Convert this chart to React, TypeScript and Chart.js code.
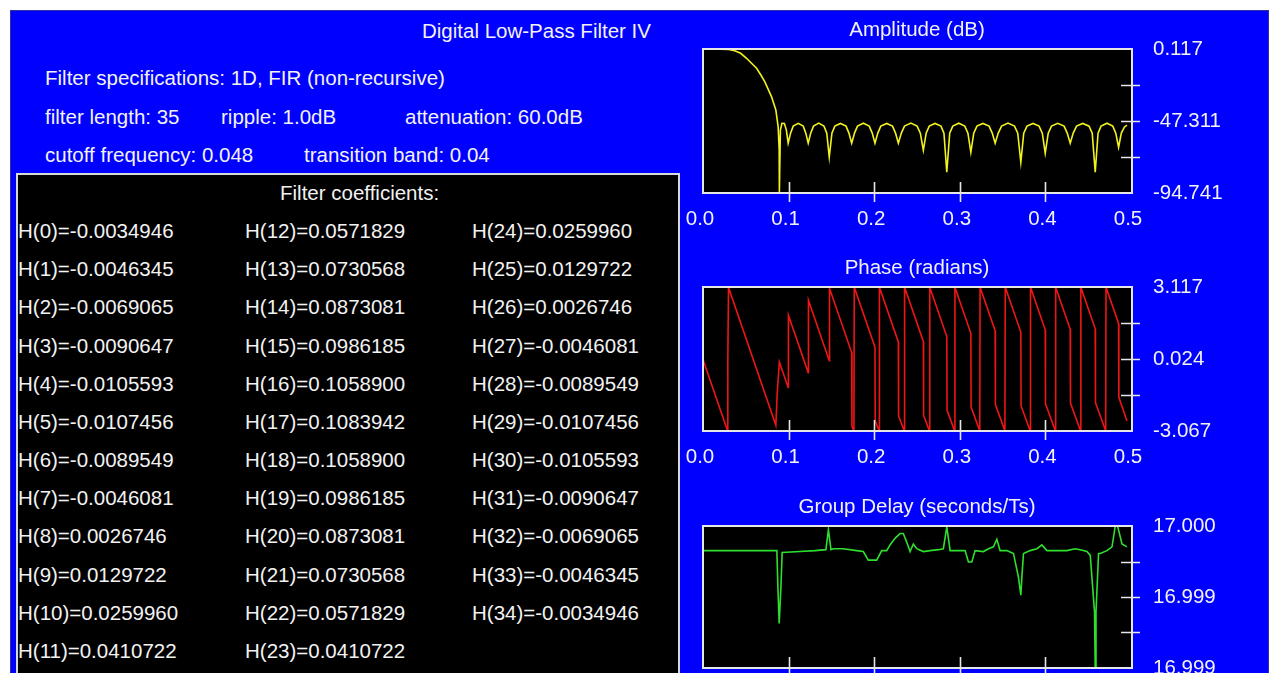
import React, { useEffect, useRef } from "react";
import { Chart, registerables } from "chart.js";

Chart.register(...registerables);

const FONT = '"Liberation Sans", Arial, Helvetica, sans-serif';
const TEXT = "#f2f2f2";
const FSIZE = 20.5;

// ---------- data ----------
const X_TICKS = [0, 0.1, 0.2, 0.3, 0.4, 0.5];

const AMP_FREQ = [
  0, 0.01, 0.02, 0.03, 0.0372, 0.044, 0.0509, 0.0567, 0.0626, 0.0676, 0.0723, 0.0801, 0.0851, 0.0878, 0.089, 0.0892,
  0.0904, 0.0922, 0.0951, 0.0974, 0.0995,
  0.1023, 0.1054, 0.1112, 0.1171, 0.1201, 0.1229,
  0.1258, 0.1291, 0.1352, 0.1413, 0.1446, 0.1475,
  0.1506, 0.154, 0.1606, 0.1671, 0.1705, 0.1737,
  0.177, 0.1805, 0.1873, 0.1942, 0.1977, 0.2009,
  0.2042, 0.2077, 0.2146, 0.2214, 0.2249, 0.2282,
  0.2317, 0.2354, 0.2428, 0.2501, 0.2539, 0.2574,
  0.2607, 0.2643, 0.2711, 0.278, 0.2815, 0.2848,
  0.2882, 0.2918, 0.2988, 0.3058, 0.3095, 0.3129,
  0.3163, 0.32, 0.327, 0.3342, 0.3379, 0.3413,
  0.3449, 0.3488, 0.3563, 0.3639, 0.3677, 0.3713,
  0.3747, 0.3785, 0.3855, 0.3926, 0.3964, 0.3998,
  0.4033, 0.4071, 0.4144, 0.4218, 0.4255, 0.429,
  0.4325, 0.4364, 0.4436, 0.451, 0.4547, 0.4582,
  0.4615, 0.465, 0.4719, 0.4787, 0.4822, 0.4855,
  0.4887, 0.4922, 0.4953,
];
const AMP_DB = [
  0.05, 0.117, 0.02, -0.2, -1.0, -2.7, -6.0, -9.3, -12.6, -17.0, -21.5, -31.4, -40.1, -51.2, -66.6, -94.7,
  -53.3, -48.9, -49.0, -53.3, -61.9,
  -55.3, -50.7, -48.9, -50.7, -55.3, -61.9,
  -55.3, -50.7, -48.7, -50.7, -55.3, -71.2,
  -55.3, -50.7, -48.9, -50.7, -55.3, -61.9,
  -55.3, -50.7, -48.8, -50.7, -55.3, -61.9,
  -55.3, -50.7, -48.9, -50.7, -55.3, -61.9,
  -55.3, -50.7, -48.7, -50.7, -55.3, -66.6,
  -55.3, -50.7, -48.9, -50.7, -55.3, -81.1,
  -55.3, -50.7, -48.8, -50.7, -55.3, -67.9,
  -55.3, -50.7, -48.9, -50.7, -55.3, -61.9,
  -55.3, -50.7, -48.7, -50.7, -55.3, -74.5,
  -55.3, -50.7, -48.9, -50.7, -55.3, -68.5,
  -55.3, -50.7, -48.8, -50.7, -55.3, -61.9,
  -55.3, -50.7, -48.9, -50.7, -55.3, -81.1,
  -55.3, -50.7, -48.8, -50.7, -55.3, -64.6,
  -55.3, -51.4, -50.1,
];
const AMP_RANGE = [-94.741, 0.117];
const AMP_LABELS = ["-94.741", "", "-47.311", "", "0.117"];

const PHASE_FREQ = [
  0, 0.0285, 0.029, 0.0298, 0.0851, 0.0867, 0.0892, 0.0995, 0.0998, 0.1229, 0.1232, 0.1475, 0.1478,
  0.1737, 0.174, 0.1763, 0.1767,
  0.2009, 0.2012, 0.2057, 0.2061,
  0.2282, 0.2285, 0.2351, 0.2355,
  0.2574, 0.2577, 0.2645, 0.2649,
  0.2848, 0.2851, 0.2939, 0.2943,
  0.3129, 0.3132, 0.3233, 0.3237,
  0.3413, 0.3416, 0.3527, 0.3531,
  0.3713, 0.3716, 0.3822, 0.3826,
  0.3998, 0.4001, 0.4116, 0.412,
  0.429, 0.4293, 0.441, 0.4414,
  0.4582, 0.4585, 0.4704, 0.4708,
  0.4855, 0.4858, 0.4953,
];
const PHASE_RAD = [
  0, -3.04, 0, 3.1, -2.82, -1.44, -0.1, -1.2, 1.9, -0.56, 2.55, -0.05, 3.06,
  0.3, -2.88, -3.06, 3.11,
  0.53, -2.64, -3.06, 3.11,
  0.76, -2.42, -3.06, 3.11,
  0.78, -2.39, -3.06, 3.11,
  0.99, -2.18, -3.06, 3.11,
  1.13, -2.04, -3.06, 3.11,
  1.24, -1.93, -3.06, 3.11,
  1.18, -1.99, -3.06, 3.11,
  1.28, -1.9, -3.06, 3.11,
  1.3, -1.87, -3.06, 3.11,
  1.32, -1.85, -3.06, 3.11,
  1.55, -1.62, -2.64,
];
const PHASE_RANGE = [-3.067, 3.117];
const PHASE_LABELS = ["-3.067", "", "0.024", "", "3.117"];

const GD_FREQ = [
  0, 0.0863, 0.0875, 0.089, 0.091, 0.0925,
  0.1132, 0.1308, 0.1436, 0.1465, 0.1495,
  0.1522, 0.1639, 0.1795, 0.1873,
  0.1931, 0.2029, 0.2088, 0.2146,
  0.2185, 0.2243, 0.2302, 0.234, 0.238,
  0.2419, 0.2457, 0.2497, 0.2574, 0.2652,
  0.275, 0.2808, 0.2848, 0.2887,
  0.3004, 0.3062, 0.3101, 0.314, 0.3179,
  0.3276, 0.3335, 0.3393, 0.3433, 0.3471,
  0.355, 0.3627, 0.3685, 0.3713, 0.3725, 0.3744,
  0.3822, 0.3901, 0.3959, 0.4018,
  0.4135, 0.4251, 0.4349, 0.4407,
  0.4485, 0.4524, 0.4574, 0.4582, 0.4591,
  0.4621, 0.4641, 0.4719, 0.4778,
  0.4816, 0.4843, 0.4895, 0.4953,
];
const GD_VAL = [
  16.99984, 16.99984, 16.99945, 16.99907, 16.99945, 16.99982,
  16.99983, 16.99984, 16.99985, 17.00006, 16.99985,
  16.99986, 16.99986, 16.99984, 16.99983,
  16.99974, 16.99974, 16.99984, 16.99984,
  16.9999, 16.99997, 17.00002, 17.00002, 16.99993,
  16.99983, 16.99991, 16.99986, 16.99983, 16.99984,
  16.99985, 16.99986, 17.00009, 16.99984,
  16.99984, 16.99984, 16.99972, 16.99972, 16.99984,
  16.99983, 16.99986, 16.99988, 16.99996, 16.99984,
  16.99984, 16.99981, 16.99956, 16.99937, 16.99956, 16.99981,
  16.99984, 16.99986, 16.9999, 16.99984,
  16.99984, 16.99984, 16.99986, 16.99985,
  16.99983, 16.99979, 16.99919, 16.9986, 16.99919,
  16.99981, 16.99981, 16.99984, 16.99988,
  17.0001, 17.0001, 16.99991, 16.99988,
];
const GD_RANGE = [16.9986, 17.0001];
const GD_LABELS = ["16.999", "", "16.999", "", "17.000"];

const COEFFS = [
  -0.0034946, -0.0046345, -0.0069065, -0.0090647, -0.0105593, -0.0107456, -0.0089549, -0.0046081,
  0.0026746, 0.0129722, 0.025996, 0.0410722, 0.0571829, 0.0730568, 0.0873081, 0.0986185, 0.10589,
  0.1083942, 0.10589, 0.0986185, 0.0873081, 0.0730568, 0.0571829, 0.0410722, 0.025996, 0.0129722,
  0.0026746, -0.0046081, -0.0089549, -0.0107456, -0.0105593, -0.0090647, -0.0069065, -0.0046345,
  -0.0034946,
];

// ---------- chart helpers ----------
const CANVAS_LEFT = 680;
const CANVAS_W = 588;

const bgPlugin = {
  id: "plotBg",
  beforeDraw(chart: any) {
    const { ctx, chartArea: a } = chart;
    ctx.save();
    ctx.fillStyle = "#000000";
    ctx.fillRect(a.left, a.top, a.right - a.left, a.bottom - a.top);
    ctx.restore();
  },
};

const framePlugin = {
  id: "plotFrame",
  afterDraw(chart: any) {
    const { ctx, chartArea: a, scales } = chart;
    ctx.save();
    ctx.strokeStyle = "#e6e6e6";
    ctx.lineWidth = 2;
    ctx.strokeRect(a.left, a.top, a.right - a.left + 1, a.bottom - a.top);
    ctx.lineWidth = 1.6;
    ctx.beginPath();
    const xt = scales.x.ticks;
    xt.forEach((t: any, i: number) => {
      if (i === 0 || i === xt.length - 1) return;
      const px = Math.round(scales.x.getPixelForValue(t.value)) + 0.5;
      ctx.moveTo(px, a.bottom - 11);
      ctx.lineTo(px, a.bottom + 9);
    });
    const yt = scales.y.ticks;
    yt.forEach((t: any, i: number) => {
      if (i === 0 || i === yt.length - 1) return;
      const py = Math.round(scales.y.getPixelForValue(t.value)) + 0.5;
      ctx.moveTo(a.right - 10, py);
      ctx.lineTo(a.right + 9, py);
    });
    ctx.stroke();
    ctx.restore();
  },
};

function makeConfig(
  freq: number[],
  vals: number[],
  color: string,
  range: number[],
  labels: string[],
  title: string
): any {
  const font = { family: FONT, size: FSIZE, weight: "normal" as const, lineHeight: 1.2 };
  const yTicks = [0, 1, 2, 3, 4].map((k) => range[0] + ((range[1] - range[0]) * k) / 4);
  return {
    type: "line",
    data: {
      datasets: [
        {
          data: freq.map((f, i) => ({ x: f, y: vals[i] })),
          borderColor: color,
          borderWidth: 1.6,
          pointRadius: 0,
          tension: 0,
          fill: false,
        },
      ],
    },
    options: {
      animation: false,
      responsive: false,
      maintainAspectRatio: false,
      events: [],
      layout: { padding: { left: 703 - CANVAS_LEFT, right: 0, top: 0, bottom: 0 } },
      plugins: {
        legend: { display: false },
        tooltip: { enabled: false },
        title: {
          display: true,
          text: title,
          color: TEXT,
          fullSize: false,
          font,
          padding: { top: 8, bottom: 6.4 },
        },
      },
      scales: {
        x: {
          type: "linear",
          min: 0,
          max: 0.5,
          grid: { display: false },
          border: { display: false },
          afterBuildTicks: (s: any) => {
            s.ticks = X_TICKS.map((v) => ({ value: v }));
          },
          afterFit: (s: any) => {
            s.height = 50;
            s.paddingLeft = 0;
            s.paddingRight = 0;
          },
          ticks: {
            color: TEXT,
            font,
            padding: 6,
            labelOffset: -3,
            maxRotation: 0,
            autoSkip: false,
            callback: (v: any) => Number(v).toFixed(1),
          },
        },
        y: {
          type: "linear",
          position: "right",
          min: range[0],
          max: range[1],
          grid: { display: false },
          border: { display: false },
          afterBuildTicks: (s: any) => {
            s.ticks = yTicks.map((v) => ({ value: v }));
          },
          afterFit: (s: any) => {
            s.width = CANVAS_LEFT + CANVAS_W - 1131;
            s.paddingTop = 0;
            s.paddingBottom = 0;
          },
          ticks: {
            color: TEXT,
            font,
            padding: 14,
            autoSkip: false,
            callback: (_v: any, i: number) => labels[i],
          },
        },
      },
    },
    plugins: [bgPlugin, framePlugin],
  };
}

function Plot(props: {
  top: number;
  areaH: number;
  freq: number[];
  vals: number[];
  color: string;
  range: number[];
  labels: string[];
  title: string;
}) {
  const ref = useRef<HTMLCanvasElement>(null);
  const h = 39 + props.areaH + 50;
  useEffect(() => {
    if (!ref.current) return;
    const chart = new Chart(
      ref.current,
      makeConfig(props.freq, props.vals, props.color, props.range, props.labels, props.title)
    );
    return () => chart.destroy();
  }, []);
  return (
    <canvas
      ref={ref}
      width={CANVAS_W}
      height={h}
      style={{ position: "absolute", left: CANVAS_LEFT, top: props.top, width: CANVAS_W, height: h }}
    />
  );
}

function Txt(props: { x: number; y: number; children: any }) {
  return (
    <div
      style={{
        position: "absolute",
        left: props.x,
        top: props.y - 12,
        height: 24,
        lineHeight: "24px",
        fontSize: FSIZE,
        fontFamily: FONT,
        color: TEXT,
        whiteSpace: "nowrap",
      }}
    >
      {props.children}
    </div>
  );
}

export default function App() {
  useEffect(() => {
    document.body.style.margin = "0";
    document.body.style.overflow = "hidden";
  }, []);
  const colX = [18, 245, 472];
  return (
    <div
      style={{
        position: "absolute",
        left: 0,
        top: 0,
        width: 1271,
        height: 673,
        overflow: "hidden",
        background: "#ffffff",
      }}
    >
      <div
        style={{
          position: "absolute",
          left: 10,
          top: 10,
          width: 1259,
          height: 700,
          background: "#0000ff",
          boxSizing: "border-box",
          border: "1px solid #3030a0",
        }}
      />
      <Txt x={422} y={31}>Digital Low-Pass Filter IV</Txt>
      <Txt x={45} y={78}>Filter specifications: 1D, FIR (non-recursive)</Txt>
      <Txt x={45} y={117}>filter length: 35</Txt>
      <Txt x={221} y={117}>ripple: 1.0dB</Txt>
      <Txt x={405} y={117}>attenuation: 60.0dB</Txt>
      <Txt x={45} y={155}>cutoff frequency: 0.048</Txt>
      <Txt x={304} y={155}>transition band: 0.04</Txt>
      <div
        style={{
          position: "absolute",
          left: 16,
          top: 173,
          width: 664,
          height: 540,
          background: "#000000",
          boxSizing: "border-box",
          border: "2px solid #d8d8d8",
        }}
      />
      <Txt x={280} y={193}>Filter coefficients:</Txt>
      {COEFFS.map((c, i) => (
        <Txt key={i} x={colX[Math.floor(i / 12)]} y={231 + 38.18 * (i % 12)}>
          {`H(${i})=${c.toFixed(7)}`}
        </Txt>
      ))}
      <Plot top={10} areaH={144} freq={AMP_FREQ} vals={AMP_DB} color="#f2f21e" range={AMP_RANGE} labels={AMP_LABELS} title="Amplitude (dB)" />
      <Plot top={248} areaH={144} freq={PHASE_FREQ} vals={PHASE_RAD} color="#ee1515" range={PHASE_RANGE} labels={PHASE_LABELS} title="Phase (radians)" />
      <Plot top={487} areaH={142} freq={GD_FREQ} vals={GD_VAL} color="#2ee02e" range={GD_RANGE} labels={GD_LABELS} title="Group Delay (seconds/Ts)" />
    </div>
  );
}
